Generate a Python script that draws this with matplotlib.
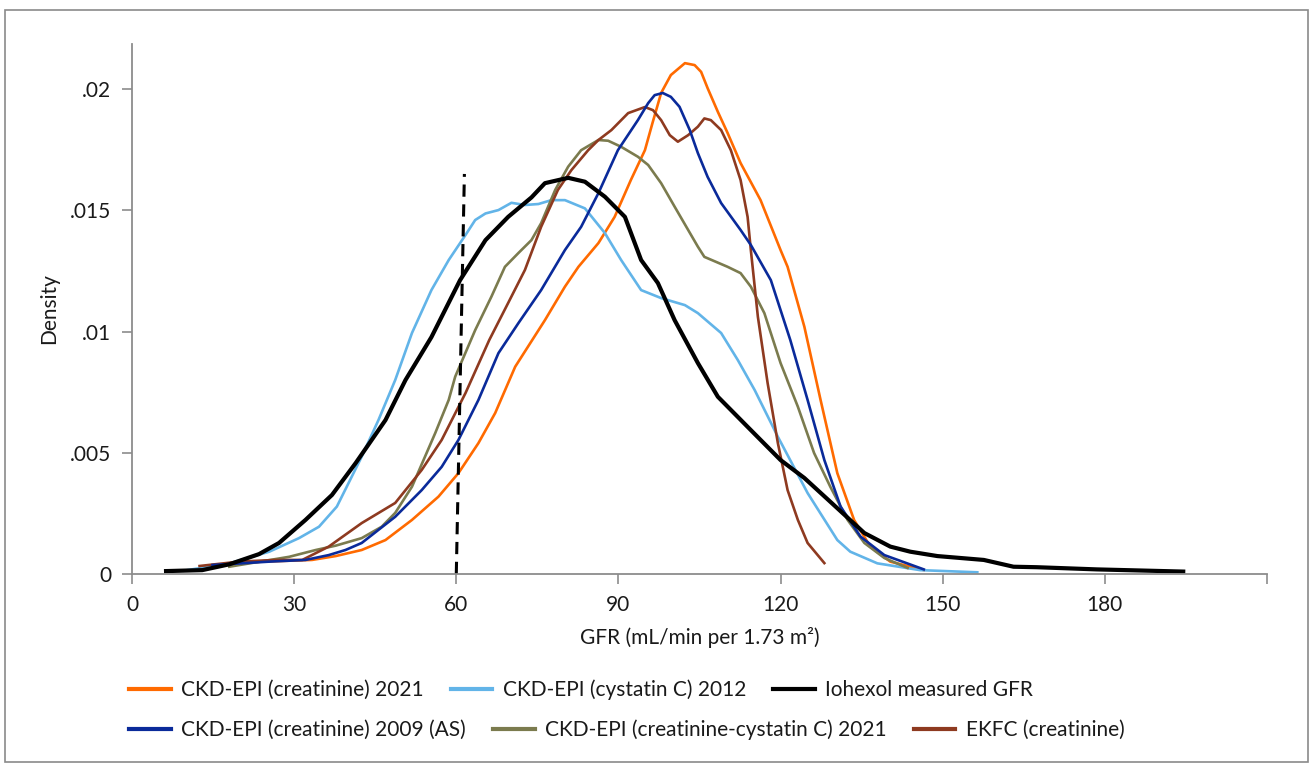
import matplotlib
matplotlib.use("Agg")
import matplotlib.pyplot as plt
from matplotlib.patches import Rectangle

plt.rcParams['font.family'] = ['Lato', 'DejaVu Sans']
plt.rcParams['lines.solid_joinstyle'] = 'round'

# GFR (mL/min per 1.73 m2) and density for each estimate
iohexol_x = [6.3, 13.0, 18.0, 23.5, 27.2, 32.1, 37.0, 41.4, 46.9, 50.6, 55.4, 60.7, 65.4, 69.6,
             73.9, 76.4, 80.7, 83.8, 87.5, 91.2, 94.2, 97.3, 100.4, 104.7, 108.4, 113.9, 120.0,
             124.4, 129.2, 135.5, 140.3, 144.0, 149.0, 157.6, 163.1, 167.4, 178.5, 194.5]
iohexol_y = [0.00012, 0.00016, 0.0004, 0.00082, 0.00128, 0.00223, 0.00326, 0.00458, 0.00635,
             0.0080, 0.00977, 0.01212, 0.01377, 0.01473, 0.01553, 0.01612, 0.01634, 0.01618,
             0.01556, 0.01473, 0.01295, 0.0120, 0.01047, 0.0087, 0.00731, 0.00607, 0.0047,
             0.00396, 0.00298, 0.00169, 0.00113, 0.00092, 0.00074, 0.00058, 0.0003, 0.00028,
             0.00019, 0.0001]

cys2012_x = [9.7, 18.0, 25.4, 30.9, 34.6, 37.9, 42.5, 45.6, 48.7, 51.8, 55.4, 58.6, 61.7, 63.5,
             65.4, 67.8, 70.2, 72.7, 75.2, 77.6, 80.1, 83.8, 87.5, 90.5, 94.2, 97.9, 102.3,
             104.7, 109.0, 112.1, 115.2, 119.5, 125.0, 130.5, 132.9, 137.9, 145.8, 156.4]
cys2012_y = [0.00014, 0.00044, 0.00092, 0.00148, 0.00195, 0.00278, 0.00484, 0.00635, 0.0080,
             0.00994, 0.01171, 0.01295, 0.01398, 0.0146, 0.01487, 0.01501, 0.01531, 0.01522,
             0.01526, 0.01542, 0.01542, 0.01508, 0.01406, 0.01295, 0.01171, 0.01138, 0.01109,
             0.01076, 0.00994, 0.00882, 0.00759, 0.00566, 0.00334, 0.0014, 0.00092, 0.00044,
             0.00016, 0.00007]

cr2021_x = [14.9, 24.1, 33.3, 37.7, 42.5, 46.9, 51.8, 56.7, 60.4, 64.1, 67.2, 70.9, 76.4, 80.1,
            82.6, 86.3, 89.3, 92.3, 94.9, 96.3, 97.9, 99.7, 102.3, 104.1, 105.3, 106.5, 108.4,
            110.2, 112.6, 116.3, 120.0, 121.3, 124.4, 127.4, 130.5, 133.6, 136.6, 140.3, 146.5]
cr2021_y = [0.00037, 0.00051, 0.00058, 0.00074, 0.00099, 0.0014, 0.00223, 0.00319, 0.00416,
            0.0054, 0.00664, 0.00855, 0.01047, 0.01185, 0.01267, 0.01365, 0.01473, 0.01625,
            0.01748, 0.0186, 0.01984, 0.02058, 0.02107, 0.02099, 0.02071, 0.02004, 0.01906,
            0.01819, 0.01695, 0.01542, 0.01336, 0.01267, 0.0102, 0.00718, 0.00416, 0.00223,
            0.00113, 0.00051, 0.00016]

cr2009_x = [14.9, 25.4, 32.1, 36.4, 39.5, 42.5, 48.7, 53.6, 57.3, 60.4, 64.1, 67.8, 71.5, 75.7,
            80.1, 83.1, 86.3, 89.9, 93.6, 95.5, 96.7, 98.2, 99.7, 101.3, 103.2, 104.7, 106.5,
            109.0, 112.6, 114.5, 118.2, 121.8, 125.0, 128.1, 131.1, 134.8, 139.2, 146.5]
cr2009_y = [0.00037, 0.00051, 0.00058, 0.00078, 0.00099, 0.00128, 0.00236, 0.00346, 0.00442,
            0.00553, 0.00718, 0.00911, 0.01035, 0.01171, 0.01336, 0.01432, 0.01571, 0.01748,
            0.01872, 0.01942, 0.01975, 0.01984, 0.01968, 0.01927, 0.01831, 0.01736, 0.01638,
            0.0153, 0.01419, 0.01357, 0.01212, 0.00965, 0.00718, 0.0047, 0.00278, 0.00154,
            0.00078, 0.00019]

crcys2021_x = [18.0, 29.1, 34.0, 37.7, 42.5, 46.2, 48.7, 51.8, 56.1, 58.6, 59.8, 63.5, 66.5,
               69.0, 71.5, 73.9, 75.7, 78.3, 80.7, 83.1, 86.3, 88.1, 90.5, 93.6, 95.5, 97.9,
               100.4, 102.9, 104.7, 105.9, 110.2, 112.6, 114.5, 117.0, 120.0, 123.2, 126.2,
               129.2, 132.4, 135.5, 139.2, 143.5]
crcys2021_y = [0.0003, 0.00071, 0.00099, 0.00117, 0.00148, 0.00195, 0.00252, 0.0036, 0.00581,
               0.00718, 0.00814, 0.01006, 0.01144, 0.01267, 0.01324, 0.01377, 0.01447, 0.01584,
               0.0168, 0.01748, 0.0179, 0.01787, 0.01762, 0.01721, 0.01687, 0.01612, 0.01515,
               0.01419, 0.0135, 0.01308, 0.01267, 0.01241, 0.01185, 0.01076, 0.0087, 0.0069,
               0.00499, 0.0036, 0.00223, 0.00128, 0.00066, 0.00025]

ekfc_x = [12.5, 19.8, 26.6, 31.5, 36.4, 42.5, 48.7, 53.6, 57.3, 61.7, 66.1, 69.6, 72.7, 75.7,
          78.8, 81.3, 84.4, 86.3, 88.7, 91.8, 94.9, 96.4, 97.9, 99.5, 101.0, 102.9, 104.7,
          105.9, 107.1, 109.0, 110.8, 112.6, 113.9, 114.5, 115.8, 117.6, 119.5, 121.3, 123.2,
          125.0, 128.1]
ekfc_y = [0.00033, 0.00051, 0.00058, 0.00058, 0.00113, 0.0021, 0.00293, 0.00429, 0.00553,
          0.00746, 0.00965, 0.01118, 0.01254, 0.01432, 0.01584, 0.01666, 0.01748, 0.0179,
          0.01831, 0.01901, 0.01926, 0.01913, 0.01872, 0.0181, 0.01783, 0.0181, 0.01845,
          0.01879, 0.01872, 0.01831, 0.01748, 0.01625, 0.01473, 0.01336, 0.01061, 0.00788,
          0.0054, 0.00346, 0.00223, 0.00128, 0.00045]

cutoff_x = [60, 61.5]
cutoff_y = [0, 0.0165]

x_ticks = [0, 30, 60, 90, 120, 150, 180, 210]
x_ticklabels = ['0', '30', '60', '90', '120', '150', '180', '']
y_ticks = [0, 0.005, 0.01, 0.015, 0.02]
y_ticklabels = ['0', '.005', '.01', '.015', '.02']

W, H = 1314, 770
fig = plt.figure(figsize=(W / 100, H / 100), dpi=100)
ax = fig.add_axes([132 / W, 1 - 574 / H, (1267 - 132) / W, (574 - 44) / H])

txt = '#1a1a1a'
fs = 15

l_cr21, = ax.plot(cr2021_x, cr2021_y, color='#FF6A00', lw=1.9)
l_cys12, = ax.plot(cys2012_x, cys2012_y, color='#62B4E8', lw=1.9)
l_crcys, = ax.plot(crcys2021_x, crcys2021_y, color='#7B7B4E', lw=1.9)
l_ekfc, = ax.plot(ekfc_x, ekfc_y, color='#8E3A20', lw=1.9)
l_cr09, = ax.plot(cr2009_x, cr2009_y, color='#0A2A9A', lw=1.9)
l_io, = ax.plot(iohexol_x, iohexol_y, color='black', lw=3.0)
ax.plot(cutoff_x, cutoff_y, color='black', lw=2.2, linestyle=(0, (4, 2.5)))

ax.set_xlim(0, 210)
ax.set_ylim(0, 0.02186)
ax.set_xticks(x_ticks)
ax.set_xticklabels(x_ticklabels)
ax.set_yticks(y_ticks)
ax.set_yticklabels(y_ticklabels)

for s in ['top', 'right']:
    ax.spines[s].set_visible(False)
for s in ['left', 'bottom']:
    ax.spines[s].set_color('#8c8c8c')
    ax.spines[s].set_linewidth(1.3)
ax.tick_params(colors='#8c8c8c', labelcolor=txt, labelsize=fs, length=7, width=1.2, pad=8)

ax.set_xlabel('GFR (mL/min per 1.73 m²)', fontsize=fs, color=txt, labelpad=9)
ax.set_ylabel('Density', fontsize=fs, color=txt, labelpad=8)

# legend in two rows, entries flowing like the original
leg_kw = dict(ncol=3, frameon=False, fontsize=fs, handlelength=2.0, handletextpad=0.5,
              columnspacing=1.3, borderpad=0, borderaxespad=0, loc='center left',
              bbox_transform=fig.transFigure)
leg1 = fig.legend([l_cr21, l_cys12, l_io],
                  ['CKD-EPI (creatinine) 2021', 'CKD-EPI (cystatin C) 2012', 'Iohexol measured GFR'],
                  bbox_to_anchor=(129 / W, 1 - 690 / H), **leg_kw)
leg2 = fig.legend([l_cr09, l_crcys, l_ekfc],
                  ['CKD-EPI (creatinine) 2009 (AS)', 'CKD-EPI (creatinine-cystatin C) 2021', 'EKFC (creatinine)'],
                  bbox_to_anchor=(129 / W, 1 - 730 / H), **leg_kw)
for leg in (leg1, leg2):
    for h in leg.legend_handles:
        h.set_linewidth(3)
    for t in leg.get_texts():
        t.set_color(txt)

fig.patches.append(Rectangle((5 / W, 1 - 762 / H), 1303 / W, 752 / H, transform=fig.transFigure,
                             fill=False, edgecolor='#8a8a8a', lw=1.2))

fig.savefig('out.png', dpi=100)
